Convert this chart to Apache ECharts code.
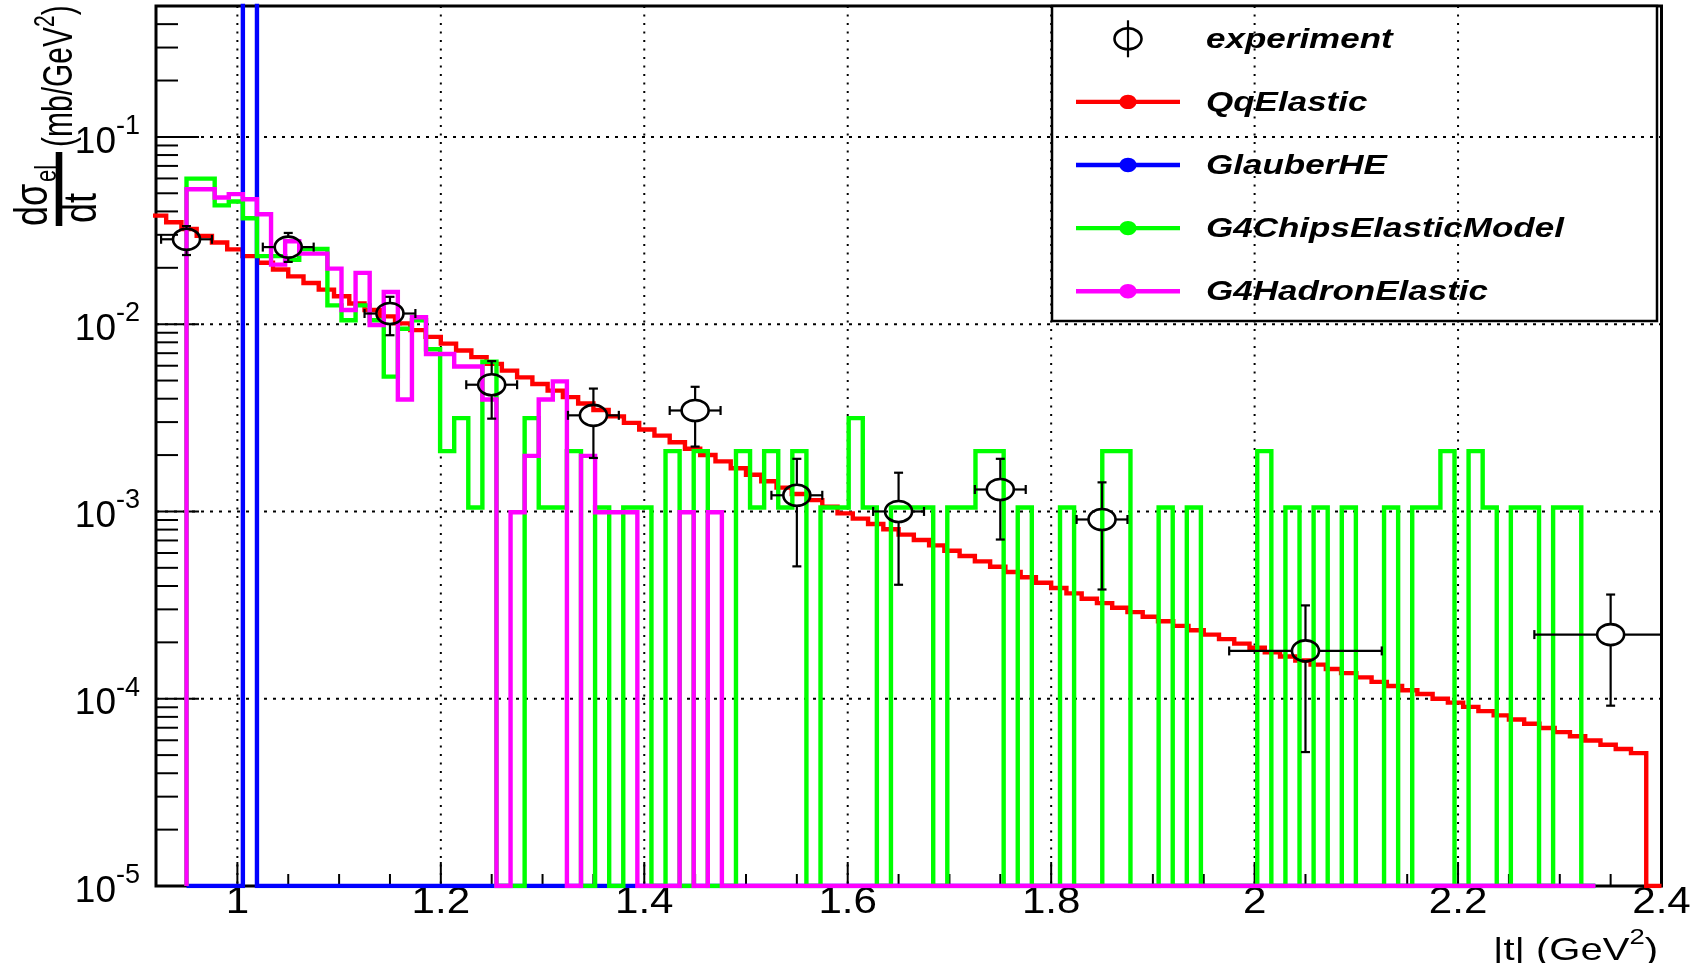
<!DOCTYPE html>
<html>
<head>
<meta charset="utf-8">
<script src="https://cdn.jsdelivr.net/npm/echarts@6/dist/echarts.min.js"></script>
<style>
  html, body { margin: 0; padding: 0; background: #ffffff; }
  #chart { width: 1690px; height: 963px; }
</style>
</head>
<body>
<div id="chart"></div>
<script>
// ---------------- axis ranges and tick values ----------------
const tRange = [0.92, 2.4];
const yRange = [1e-5, 0.5];
const xTickLabels = [1, 1.2, 1.4, 1.6, 1.8, 2, 2.2, 2.4];
const xMinorTicks = [0.95, 1.05, 1.1, 1.15, 1.25, 1.3, 1.35, 1.45, 1.5, 1.55, 1.65, 1.7, 1.75,
                     1.85, 1.9, 1.95, 2.05, 2.1, 2.15, 2.25, 2.3, 2.35];
const xGridLines = [1, 1.2, 1.4, 1.6, 1.8, 2, 2.2];
const yTickLabels = [1e-5, 1e-4, 1e-3, 1e-2, 1e-1];
const yGridLines = [1e-4, 1e-3, 1e-2, 1e-1];
const yMinorMantissas = [2, 3, 4, 5, 6, 7, 8, 9];

// ---------------- experiment: d(sigma_el)/dt with errors ----------------
const expT     = [0.95, 1.05, 1.15, 1.25, 1.35, 1.45, 1.55, 1.65, 1.75, 1.85, 2.05, 2.35];
const expTErr  = [0.025, 0.025, 0.025, 0.025, 0.025, 0.025, 0.025, 0.025, 0.025, 0.025, 0.075, 0.075];
const expVal   = [0.0284, 0.0258, 0.0114, 0.00475, 0.00326, 0.00346, 0.00122, 0.00100, 0.00131, 0.000906, 0.000180, 0.000220];
const expLow   = [0.0234, 0.0215, 0.00873, 0.00313, 0.00193, 0.00222, 0.000509, 0.000406, 0.000708, 0.000383, 0.0000519, 0.0000918];
const expHigh  = [0.0334, 0.0307, 0.0140, 0.00635, 0.00453, 0.00463, 0.00191, 0.00161, 0.00191, 0.00143, 0.000315, 0.000360];

// ---------------- QqElastic histogram (bin width 0.015 from 0.915) ----------------
const qqBinLow = 0.915, qqBinWidth = 0.015;
const qqElastic = [
  0.0380, 0.0350, 0.0322, 0.0296, 0.0273, 0.0251, 0.0231, 0.0213, 0.0196, 0.0180,
  0.0166, 0.0153, 0.0141, 0.0129, 0.0119, 0.0110, 0.0101, 0.00929, 0.00855, 0.00787,
  0.00724, 0.00667, 0.00614, 0.00565, 0.00520, 0.00479, 0.00442, 0.00408, 0.00377, 0.00348,
  0.00322, 0.00297, 0.00274, 0.00254, 0.00234, 0.00216, 0.00200, 0.00185, 0.00170, 0.00157,
  0.00145, 0.00134, 0.00124, 0.00115, 0.00106, 0.000977, 0.000915, 0.000857, 0.000803, 0.000752,
  0.000704, 0.000659, 0.000617, 0.000578, 0.000541, 0.000507, 0.000475, 0.000445, 0.000416, 0.000390,
  0.000365, 0.000342, 0.000324, 0.000306, 0.000290, 0.000274, 0.000259, 0.000245, 0.000232, 0.000220,
  0.000208, 0.000197, 0.000187, 0.000177, 0.000168, 0.000160, 0.000152, 0.000144, 0.000137, 0.000130,
  0.000123, 0.000117, 0.000111, 0.000106, 0.000100, 0.0000953, 0.0000905, 0.0000859, 0.0000815, 0.0000774,
  0.0000735, 0.0000698, 0.0000663, 0.0000630, 0.0000598, 0.0000568, 0.0000539, 0.0000512, 0
];

// ---------------- Geant4 model histograms (100 bins of 0.01385 from 0.95) ----------------
const modelBinLow = 0.95, modelBinWidth = 0.01385;
const glauberHE = [
  0, 0, 0, 0, 1.0, 0, 0, 0, 0, 0,
  0, 0, 0, 0, 0, 0, 0, 0, 0, 0,
  0, 0, 0, 0, 0, 0, 0, 0, 0, 0,
  0, 0, 0, 0, 0, 0, 0, 0, 0, 0,
  0, 0, 0, 0, 0, 0, 0, 0, 0, 0,
  0, 0, 0, 0, 0, 0, 0, 0, 0, 0,
  0, 0, 0, 0, 0, 0, 0, 0, 0, 0,
  0, 0, 0, 0, 0, 0, 0, 0, 0, 0,
  0, 0, 0, 0, 0, 0, 0, 0, 0, 0,
  0, 0, 0, 0, 0, 0, 0, 0, 0, 0
];
const chipsElastic = [
  0.0599, 0.0599, 0.0431, 0.0452, 0.0368, 0.0231, 0.0231, 0.0221, 0.0252, 0.0252,
  0.0126, 0.0105, 0.0126, 0.0105, 0.00525, 0.00945, 0.0105, 0.00735, 0.0021, 0.00315,
  0.00105, 0.0063, 0, 0, 0.00315, 0.00105, 0.00105, 0.0021, 0, 0.00105,
  0, 0.00105, 0.00105, 0, 0.0021, 0, 0.0021, 0, 0, 0.0021,
  0.00105, 0.0021, 0.00105, 0.0021, 0, 0.00105, 0.00105, 0.00315, 0.00105, 0,
  0.00105, 0.00105, 0.00105, 0, 0.00105, 0.00105, 0.0021, 0.0021, 0, 0.00105,
  0, 0, 0.00105, 0, 0, 0.0021, 0.0021, 0, 0, 0.00105,
  0, 0.00105, 0, 0, 0, 0, 0.0021, 0, 0.00105, 0,
  0.00105, 0, 0.00105, 0, 0, 0.00105, 0, 0.00105, 0.00105, 0.0021,
  0, 0.0021, 0.00105, 0, 0.00105, 0.00105, 0, 0.00105, 0.00105, 0
];
const hadronElastic = [
  0.0525, 0.0525, 0.0475, 0.0495, 0.0465, 0.0386, 0.0208, 0.0277, 0.0238, 0.0238,
  0.0198, 0.0119, 0.0188, 0.0099, 0.01485, 0.00396, 0.01089, 0.00693, 0.00693, 0.00594,
  0.00594, 0.00396, 0, 0.00099, 0.00198, 0.00396, 0.00495, 0, 0.00198, 0.00099,
  0.00099, 0.00099, 0, 0, 0, 0.00099, 0, 0.00099, 0, 0,
  0, 0, 0, 0, 0, 0, 0, 0, 0, 0,
  0, 0, 0, 0, 0, 0, 0, 0, 0, 0,
  0, 0, 0, 0, 0, 0, 0, 0, 0, 0,
  0, 0, 0, 0, 0, 0, 0, 0, 0, 0,
  0, 0, 0, 0, 0, 0, 0, 0, 0, 0,
  0, 0, 0, 0, 0, 0, 0, 0, 0, 0
];

const seriesNames = ['experiment', 'QqElastic', 'GlauberHE', 'G4ChipsElasticModel', 'G4HadronElastic'];
const seriesColors = ['#000000', '#ff0000', '#0000ff', '#00ff00', '#ff00ff'];

// ---------------- helpers ----------------
// Outline of a histogram as a staircase; empty bins sit on the bottom of the log axis.
function histOutline(low, width, values, riseFromFloor) {
  const floor = yRange[0];
  const level = v => (v > floor ? v : floor);
  const pts = [];
  if (riseFromFloor) pts.push([low, floor]);
  values.forEach((v, i) => {
    const a = low + i * width, b = low + (i + 1) * width;
    pts.push([a, level(v)], [b, level(v)]);
  });
  pts.push([low + values.length * width, floor]);
  return pts;
}

function histSeries(name, color, pts, z) {
  return {
    type: 'line', name, data: pts, z,
    showSymbol: false, symbol: 'none', silent: true, clip: true,
    lineStyle: { color, width: 4.4, join: 'miter', cap: 'butt' }
  };
}

const labelFamily = '"Liberation Sans", Arial, sans-serif';

// Axis decoration: dotted grid, inward ticks (log minor ticks at 2..9 x 10^k), x tick labels.
const TICK = { xMajor: 24, xMinor: 12, yMajor: 43, yMinor: 22 };
const decor = [];
xGridLines.forEach(v => decor.push([v, yRange[0], 0]));
yGridLines.forEach(v => decor.push([tRange[0], v, 1]));
xTickLabels.forEach(v => decor.push([v, yRange[0], 2]));
xMinorTicks.forEach(v => decor.push([v, yRange[0], 3]));
yTickLabels.forEach(v => decor.push([tRange[0], v, 4]));
yTickLabels.forEach(dec => yMinorMantissas.forEach(m => {
  const v = m * dec;
  if (v <= yRange[1] * 1.0001) decor.push([tRange[0], v, 5]);
}));
xTickLabels.forEach(v => decor.push([v, yRange[0], 6]));

function renderDecor(params, api) {
  const kind = api.value(2);
  const p = api.coord([api.value(0), api.value(1)]);
  const cs = params.coordSys;
  const bottom = cs.y + cs.height;
  if (kind === 6) {
    return {
      type: 'text', x: p[0], y: bottom + 17, scaleX: 1.17, silent: true,
      style: { text: String(api.value(0)), font: '36px ' + labelFamily, fill: '#000', align: 'center', verticalAlign: 'middle' }
    };
  }
  let shape, style;
  if (kind === 0) {
    shape = { x1: p[0], y1: cs.y, x2: p[0], y2: bottom };
    style = { stroke: '#000', lineWidth: 2, lineDash: [2, 6.5] };
  } else if (kind === 1) {
    shape = { x1: cs.x, y1: p[1], x2: cs.x + cs.width, y2: p[1] };
    style = { stroke: '#000', lineWidth: 2, lineDash: [3, 6] };
  } else if (kind === 2 || kind === 3) {
    const len = kind === 2 ? TICK.xMajor : TICK.xMinor;
    shape = { x1: p[0], y1: bottom, x2: p[0], y2: bottom - len };
    style = { stroke: '#000', lineWidth: 2 };
  } else {
    const len = kind === 4 ? TICK.yMajor : TICK.yMinor;
    shape = { x1: cs.x, y1: p[1], x2: cs.x + len, y2: p[1] };
    style = { stroke: '#000', lineWidth: 2 };
  }
  return { type: 'line', shape, style, silent: true };
}

// Experimental points: open ellipse marker with x/y error bars and end caps.
const MARK = { rx: 13.5, ry: 10.5, cap: 4.5 };
function renderPoint(params, api) {
  const t = api.value(0), v = api.value(1), lo = api.value(2), hi = api.value(3), et = api.value(4);
  const c = api.coord([t, v]);
  const l = api.coord([t - et, v]), r = api.coord([t + et, v]);
  const top = api.coord([t, hi]), bot = api.coord([t, lo]);
  const st = { stroke: '#000', lineWidth: 2.2 };
  const seg = (x1, y1, x2, y2) => ({ type: 'line', shape: { x1, y1, x2, y2 }, style: st });
  const kids = [{
    type: 'ellipse', shape: { cx: c[0], cy: c[1], rx: MARK.rx, ry: MARK.ry },
    style: { stroke: '#000', lineWidth: 2.6, fill: 'none' }
  }];
  if (l[0] < c[0] - MARK.rx) kids.push(seg(l[0], c[1], c[0] - MARK.rx, c[1]), seg(l[0], c[1] - MARK.cap, l[0], c[1] + MARK.cap));
  if (r[0] > c[0] + MARK.rx) kids.push(seg(c[0] + MARK.rx, c[1], r[0], c[1]), seg(r[0], c[1] - MARK.cap, r[0], c[1] + MARK.cap));
  if (top[1] < c[1] - MARK.ry) kids.push(seg(c[0], top[1], c[0], c[1] - MARK.ry), seg(c[0] - MARK.cap, top[1], c[0] + MARK.cap, top[1]));
  if (bot[1] > c[1] + MARK.ry) kids.push(seg(c[0], c[1] + MARK.ry, c[0], bot[1]), seg(c[0] - MARK.cap, bot[1], c[0] + MARK.cap, bot[1]));
  return { type: 'group', children: kids };
}

// ---------------- legend, axis titles ----------------
const LEG = { x: 1052, y: 6, w: 605, h: 315, row0: 38.8, rowGap: 63.1, symX: 1128, lineX0: 1076, lineX1: 1180, textX: 1206 };
const legendFont = 'italic bold 28px ' + labelFamily;
const legendChildren = [{
  type: 'rect', shape: { x: LEG.x, y: LEG.y, width: LEG.w, height: LEG.h },
  style: { fill: '#fff', stroke: '#000', lineWidth: 2.5 }
}];
seriesNames.forEach((name, i) => {
  const cy = LEG.row0 + i * LEG.rowGap;
  if (i === 0) {
    legendChildren.push(
      { type: 'ellipse', shape: { cx: LEG.symX, cy, rx: MARK.rx, ry: MARK.ry }, style: { stroke: '#000', lineWidth: 2.6, fill: 'none' } },
      { type: 'line', shape: { x1: LEG.symX, y1: cy - 18.5, x2: LEG.symX, y2: cy + 18.5 }, style: { stroke: '#000', lineWidth: 2.2 } }
    );
  } else {
    legendChildren.push(
      { type: 'line', shape: { x1: LEG.lineX0, y1: cy, x2: LEG.lineX1, y2: cy }, style: { stroke: seriesColors[i], lineWidth: 4.4 } },
      { type: 'ellipse', shape: { cx: LEG.symX, cy, rx: 8.6, ry: 7.2 }, style: { fill: seriesColors[i] } }
    );
  }
  legendChildren.push({
    type: 'text', x: LEG.textX, y: cy + 1, scaleX: 1.25,
    style: { text: name, font: legendFont, fill: '#000', align: 'left', verticalAlign: 'middle' }
  });
});

const xTitle = {
  type: 'text', x: 1658, y: 947, scaleX: 1.25, z: 100,
  style: {
    text: '{n||t| (GeV}{s|2}{n|)}', align: 'right', verticalAlign: 'middle', fill: '#000',
    rich: {
      n: { fontSize: 32, fontFamily: labelFamily, lineHeight: 40, verticalAlign: 'bottom' },
      s: { fontSize: 22, fontFamily: labelFamily, lineHeight: 26, verticalAlign: 'top' }
    }
  }
};
// rotated y title: d(sigma)_el / dt (mb/GeV^2), read bottom-to-top
const yTitle = {
  type: 'group', x: 59, y: 226, rotation: Math.PI / 2, z: 100,
  children: [
    { type: 'text', x: 0, y: -25, scaleY: 1.3, style: { text: 'dσ', font: '36px ' + labelFamily, fill: '#000', align: 'left', verticalAlign: 'middle' } },
    { type: 'text', x: 44, y: -11, scaleY: 1.3, style: { text: 'el', font: '22px ' + labelFamily, fill: '#000', align: 'left', verticalAlign: 'middle' } },
    { type: 'rect', shape: { x: 0, y: -3.3, width: 74, height: 6.6 }, style: { fill: '#000' } },
    { type: 'text', x: 3, y: 24, scaleY: 1.3, style: { text: 'dt', font: '36px ' + labelFamily, fill: '#000', align: 'left', verticalAlign: 'middle' } },
    { type: 'text', x: 79, y: -3, scaleY: 1.4, style: {
        text: '{n|(mb/GeV}{s|2}{n|)}', align: 'left', verticalAlign: 'middle', fill: '#000',
        rich: {
          n: { fontSize: 30, fontFamily: labelFamily, lineHeight: 36, verticalAlign: 'bottom' },
          s: { fontSize: 21, fontFamily: labelFamily, lineHeight: 22, verticalAlign: 'top' }
        } } }
  ]
};

// ---------------- chart ----------------
const chart = echarts.init(document.getElementById('chart'), null, { renderer: 'canvas' });
chart.setOption({
  animation: false,
  backgroundColor: '#ffffff',
  grid: { left: 156, right: 28.5, top: 6, bottom: 77, show: true, borderColor: '#000', borderWidth: 3, backgroundColor: 'transparent' },
  xAxis: {
    type: 'value', min: tRange[0], max: tRange[1],
    axisLine: { show: false }, axisTick: { show: false }, splitLine: { show: false },
    axisLabel: { show: false }
  },
  yAxis: {
    type: 'log', logBase: 10, min: yRange[0], max: yRange[1],
    axisLine: { show: false }, axisTick: { show: false }, splitLine: { show: false },
    axisLabel: {
      margin: 16, color: '#000', showMaxLabel: false, showMinLabel: true,
      formatter: v => '{b|10}{e|' + Math.round(Math.log10(v)) + '}',
      rich: {
        b: { fontSize: 37, fontFamily: labelFamily, lineHeight: 48, verticalAlign: 'bottom', color: '#000' },
        e: { fontSize: 27, fontFamily: labelFamily, lineHeight: 28, verticalAlign: 'top', color: '#000' }
      }
    }
  },
  series: [
    { type: 'custom', name: 'axisDecor', coordinateSystem: 'cartesian2d', data: decor, renderItem: renderDecor, z: 1, silent: true, encode: { x: 0, y: 1 } },
    histSeries(seriesNames[1], seriesColors[1], histOutline(qqBinLow, qqBinWidth, qqElastic, false), 3),
    histSeries(seriesNames[2], seriesColors[2], histOutline(modelBinLow, modelBinWidth, glauberHE, true), 4),
    histSeries(seriesNames[3], seriesColors[3], histOutline(modelBinLow, modelBinWidth, chipsElastic, true), 5),
    histSeries(seriesNames[4], seriesColors[4], histOutline(modelBinLow, modelBinWidth, hadronElastic, true), 6),
    {
      type: 'custom', name: seriesNames[0], coordinateSystem: 'cartesian2d', clip: true, z: 7, silent: true,
      data: expT.map((t, i) => [t, expVal[i], expLow[i], expHigh[i], expTErr[i]]),
      encode: { x: 0, y: 1 }, renderItem: renderPoint
    }
  ],
  graphic: [
    { type: 'group', z: 100, children: legendChildren },
    xTitle,
    yTitle
  ]
});
</script>
</body>
</html>
